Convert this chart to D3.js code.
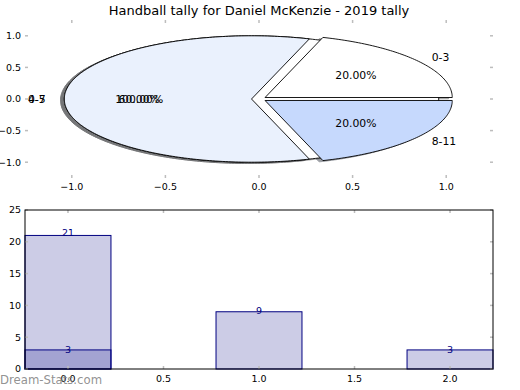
<!DOCTYPE html>
<html><head><meta charset="utf-8">
<script src="https://cdn.jsdelivr.net/npm/d3@7"></script>
<style>html,body{margin:0;padding:0;background:#fff;} svg{display:block;font-family:"DejaVu Sans",sans-serif;}</style>
</head><body>
<svg id="c" width="520" height="390"></svg>
<script>
// ---- data ----
const title = "Handball tally for Daniel McKenzie - 2019 tally";
const pieLabelsA = ["0-3", "4-7", "8-11"];
const pieValuesA = [3, 9, 3];
const pieLabelsB = ["0-5"];
const pieValuesB = [3];
const pieColors = ["#ffffff", "#eaf1fd", "#c6d9fd"];
const pieTicks = [-1.0, -0.5, 0.0, 0.5, 1.0];
const barCats = [0, 1, 2];
const barValuesA = [21, 9, 3];
const barValuesB = [3];
const barXTicks = [0.0, 0.5, 1.0, 1.5, 2.0];
const barYTicks = [0, 5, 10, 15, 20, 25];
const watermark = "Dream-Stats.com";

// ---- layout ----
const svg = d3.select("#c");
const P = {l: 25, r: 493, t: 20, b: 178};
const B = {l: 25, r: 493, t: 210, b: 369};
const explode = 0.04, radius = 1, shadowOff = -0.02;
const fmt1 = v => d3.format(".1f")(v).replace("-", "\u2212");
const tickColor = "#bdbdbd";
const tickFont = 9.5;

const px = d3.scaleLinear().domain([-1.25, 1.25]).range([P.l, P.r]);
const py = d3.scaleLinear().domain([-1.25, 1.25]).range([P.b, P.t]);

const line = d3.line().x(d => px(d[0])).y(d => py(d[1]));
function wedgePath(cx, cy, a0, a1) {
  const full = Math.abs((a1 - a0) - 2 * Math.PI) < 1e-9;
  const pts = full ? [] : [[cx, cy]];
  const n = Math.max(8, Math.ceil((a1 - a0) / (Math.PI / 180)));
  for (let i = 0; i <= n; i++) {
    const a = a0 + (a1 - a0) * i / n;
    pts.push([cx + radius * Math.cos(a), cy + radius * Math.sin(a)]);
  }
  return line(pts) + "Z";
}
function buildPie(values, labels) {
  const arcs = d3.pie().sort(null).startAngle(0).endAngle(2 * Math.PI)(values);
  const total = d3.sum(values);
  return arcs.map((a, i) => {
    const mid = (a.startAngle + a.endAngle) / 2;
    const cx = explode * Math.cos(mid), cy = explode * Math.sin(mid);
    return {a0: a.startAngle, a1: a.endAngle, mid, cx, cy,
            color: pieColors[i % pieColors.length], label: labels[i],
            pct: (100 * values[i] / total).toFixed(2) + "%"};
  });
}
const wedgesB = buildPie(pieValuesB, pieLabelsB);
const wedgesA = buildPie(pieValuesA, pieLabelsA);
const all = wedgesB.concat(wedgesA);

// pie ticks (no frame)
const gp = svg.append("g");
pieTicks.forEach(t => {
  gp.append("line").attr("x1", px(t)).attr("x2", px(t)).attr("y1", P.b).attr("y2", P.b - 3).attr("stroke", tickColor).attr("stroke-width", 1.5);
  gp.append("line").attr("x1", px(t)).attr("x2", px(t)).attr("y1", P.t).attr("y2", P.t + 3).attr("stroke", tickColor).attr("stroke-width", 1.5);
  gp.append("line").attr("y1", py(t)).attr("y2", py(t)).attr("x1", P.l).attr("x2", P.l + 3).attr("stroke", tickColor).attr("stroke-width", 1.5);
  gp.append("line").attr("y1", py(t)).attr("y2", py(t)).attr("x1", P.r).attr("x2", P.r - 3).attr("stroke", tickColor).attr("stroke-width", 1.5);
  gp.append("text").attr("x", px(t)).attr("y", P.b + 12).attr("text-anchor", "middle").attr("font-size", tickFont).text(fmt1(t));
  gp.append("text").attr("x", P.l - 4).attr("y", py(t)).attr("dy", "0.36em").attr("text-anchor", "end").attr("font-size", tickFont).text(fmt1(t));
});

// shadows
const shade = c => { const r = d3.rgb(c); return d3.rgb(r.r * 0.3, r.g * 0.3, r.b * 0.3).toString(); };
all.forEach(w => {
  svg.append("path").attr("d", wedgePath(w.cx + shadowOff, w.cy + shadowOff, w.a0, w.a1))
    .attr("fill", shade(w.color)).attr("stroke", shade(w.color)).attr("opacity", 0.5);
});
// wedges
all.forEach(w => {
  svg.append("path").attr("d", wedgePath(w.cx, w.cy, w.a0, w.a1))
    .attr("fill", w.color).attr("stroke", "#000").attr("stroke-width", 0.9).attr("stroke-linejoin", "miter");
});
// labels
all.forEach(w => {
  const lx = w.cx + 1.1 * radius * Math.cos(w.mid), ly = w.cy + 1.1 * radius * Math.sin(w.mid);
  svg.append("text").attr("x", px(lx)).attr("y", py(ly)).attr("dy", "0.36em")
    .attr("text-anchor", lx > 0 ? "start" : "end").attr("font-size", 10.8).text(w.label);
  const tx = w.cx + 0.6 * radius * Math.cos(w.mid), ty = w.cy + 0.6 * radius * Math.sin(w.mid);
  svg.append("text").attr("x", px(tx)).attr("y", py(ty)).attr("dy", "0.36em")
    .attr("text-anchor", "middle").attr("font-size", 10.8).text(w.pct);
});

svg.append("text").attr("x", (P.l + P.r) / 2).attr("y", 15).attr("text-anchor", "middle").attr("font-size", 13).text(title);

// ---- bar chart ----
const bx = d3.scaleLinear().domain([-0.225, 2.225]).range([B.l, B.r]);
const by = d3.scaleLinear().domain([0, 25]).range([B.b, B.t]);
const bw = 0.45;
const gb = svg.append("g");
function drawBars(cats, vals) {
  vals.forEach((v, i) => {
    const c = cats[i];
    gb.append("rect").attr("x", bx(c - bw / 2)).attr("y", by(v)).attr("width", bx(c + bw / 2) - bx(c - bw / 2))
      .attr("height", by(0) - by(v)).attr("fill", "rgba(0,0,128,0.2)").attr("stroke", "#000080").attr("stroke-width", 1);
  });
}
drawBars(barCats, barValuesA);
drawBars(barCats, barValuesB);
function drawBarLabels(cats, vals) {
  vals.forEach((v, i) => {
    gb.append("text").attr("x", bx(cats[i])).attr("y", by(v * 1.02)).attr("dy", "0.36em")
      .attr("text-anchor", "middle").attr("font-size", 9.5).attr("fill", "#000080").text(v);
  });
}
drawBarLabels(barCats, barValuesA);
drawBarLabels(barCats, barValuesB);

barXTicks.forEach(t => {
  gb.append("line").attr("x1", bx(t)).attr("x2", bx(t)).attr("y1", B.b).attr("y2", B.b - 3).attr("stroke", tickColor).attr("stroke-width", 1.5);
  gb.append("line").attr("x1", bx(t)).attr("x2", bx(t)).attr("y1", B.t).attr("y2", B.t + 3).attr("stroke", tickColor).attr("stroke-width", 1.5);
  gb.append("text").attr("x", bx(t)).attr("y", B.b + 13).attr("text-anchor", "middle").attr("font-size", tickFont).text(fmt1(t));
});
barYTicks.forEach(t => {
  gb.append("line").attr("y1", by(t)).attr("y2", by(t)).attr("x1", B.l).attr("x2", B.l + 3).attr("stroke", tickColor).attr("stroke-width", 1.5);
  gb.append("line").attr("y1", by(t)).attr("y2", by(t)).attr("x1", B.r).attr("x2", B.r - 3).attr("stroke", tickColor).attr("stroke-width", 1.5);
  gb.append("text").attr("x", B.l - 4).attr("y", by(t)).attr("dy", "0.36em").attr("text-anchor", "end").attr("font-size", tickFont).text(t);
});
gb.append("rect").attr("x", B.l).attr("y", B.t).attr("width", B.r - B.l).attr("height", B.b - B.t)
  .attr("fill", "none").attr("stroke", "#000").attr("stroke-width", 1);

svg.append("text").attr("x", 0).attr("y", 384).attr("font-size", 11.7).attr("fill", "#858585").attr("fill-opacity", 0.9).text(watermark);
</script>
</body></html>
